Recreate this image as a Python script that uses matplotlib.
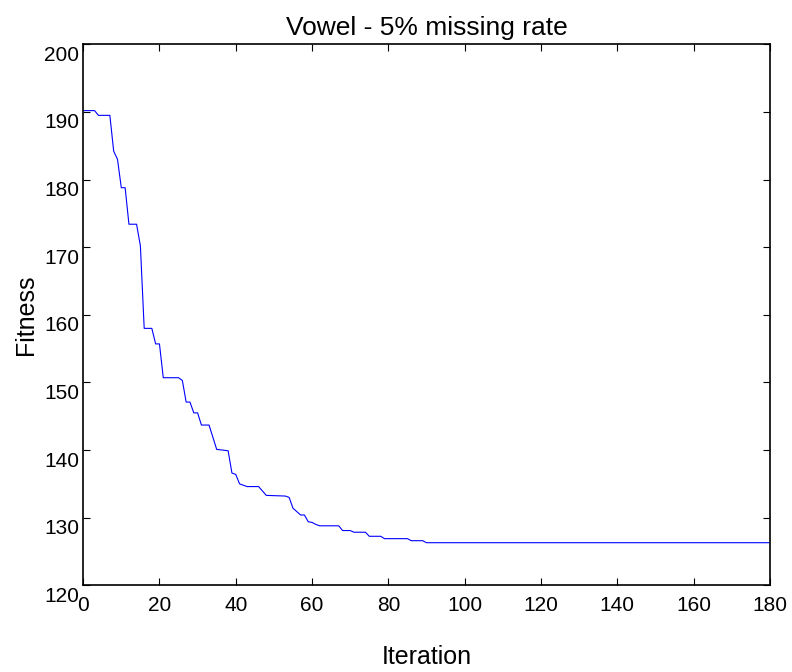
import matplotlib
matplotlib.use('Agg')
import matplotlib.pyplot as plt
import matplotlib.transforms as mtransforms

plt.rcParams['font.family'] = ['Liberation Sans', 'DejaVu Sans']

# breakpoints of the best-fitness curve
iterations = [0, 3, 4, 7, 8, 9, 10, 11, 12, 14, 15, 16, 18, 19, 20, 21, 25, 26,
              27, 28, 29, 30, 31, 33, 35, 38, 39, 40, 41, 42, 43, 46, 48, 53, 54,
              55, 57, 58, 59, 60, 61, 62, 67, 68, 70, 71, 74, 75, 78, 79, 85, 86,
              89, 90, 180]
fitness = [190.2, 190.2, 189.5, 189.5, 184.2, 183.0, 178.8, 178.8, 173.4, 173.4,
           170.2, 158.0, 158.0, 155.7, 155.7, 150.7, 150.7, 150.3, 147.1, 147.1,
           145.5, 145.5, 143.7, 143.7, 140.1, 139.9, 136.6, 136.4, 135.0, 134.8,
           134.6, 134.6, 133.3, 133.2, 133.0, 131.4, 130.4, 130.4, 129.4, 129.3,
           129.0, 128.8, 128.8, 128.1, 128.1, 127.85, 127.85, 127.25, 127.25,
           126.9, 126.9, 126.6, 126.6, 126.3, 126.3]

xticks = [0, 20, 40, 60, 80, 100, 120, 140, 160, 180]
yticks = [120, 130, 140, 150, 160, 170, 180, 190, 200]

fig = plt.figure(figsize=(7.92, 6.72), dpi=100)
ax = fig.add_axes([0.105, 0.129, 0.867, 0.805])

ax.plot(iterations, fitness, color='blue', linewidth=0.8)

ax.set_xlim(0, 180)
ax.set_ylim(120, 200)
ax.set_xticks(xticks)
ax.set_yticks(yticks)
ax.tick_params(direction='in', top=True, right=True, labelsize=15, length=5)
ax.tick_params(axis='x', pad=8)
ax.tick_params(axis='y', pad=3)
for s in ax.spines.values():
    s.set_linewidth(1.2)

# y tick labels sit a bit below their ticks in the original
shift = mtransforms.ScaledTranslation(0, -9 / 100, fig.dpi_scale_trans)
for lab in ax.get_yticklabels():
    lab.set_transform(lab.get_transform() + shift)

ax.set_title('Vowel - 5% missing rate', fontsize=19, pad=7)
ax.set_xlabel('Iteration', fontsize=18, labelpad=21)
ax.set_ylabel('Fitness', fontsize=18, labelpad=4)

fig.savefig('out.png', dpi=100)
